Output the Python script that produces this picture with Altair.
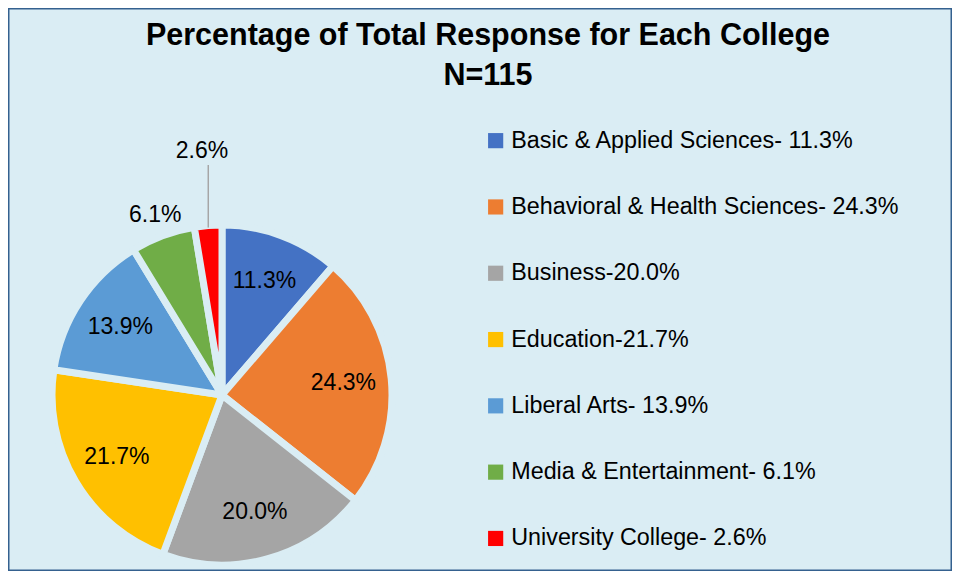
import altair as alt
import pandas as pd

colleges = ["Basic & Applied Sciences", "Behavioral & Health Sciences", "Business",
            "Education", "Liberal Arts", "Media & Entertainment", "University College"]
legend_labels = ["Basic & Applied Sciences- 11.3%", "Behavioral & Health Sciences- 24.3%",
                 "Business-20.0%", "Education-21.7%", "Liberal Arts- 13.9%",
                 "Media & Entertainment- 6.1%", "University College- 2.6%"]
percent = [11.3, 24.3, 20.0, 21.7, 13.9, 6.1, 2.6]
colors = ["#4472C4", "#ED7D31", "#A5A5A5", "#FFC000", "#5B9BD5", "#70AD47", "#FF0000"]
title_lines = ["Percentage of Total Response for Each College", "N=115"]

BG = "#DAEDF4"
FONT = "Liberation Sans"
CX, CY, R = 214, 387, 170

df = pd.DataFrame({
    "college": colleges,
    "legend": legend_labels,
    "pct": percent,
    "order": list(range(len(colleges))),
})

color = alt.Color(
    "legend:N",
    scale=alt.Scale(domain=legend_labels, range=colors),
    legend=alt.Legend(
        title=None, orient="none", legendX=476, legendY=121,
        symbolType="square", symbolSize=230, symbolStrokeWidth=0,
        labelFont=FONT, labelFontSize=23.3, labelColor="#000000",
        rowPadding=42.3, labelOffset=4, labelLimit=500,
    ),
)

arcs = alt.Chart(df).mark_arc(outerRadius=R, stroke=BG, strokeWidth=7).encode(
    theta=alt.Theta("pct:Q", stack=True),
    order=alt.Order("order:Q"),
    color=color, x=alt.value(CX), y=alt.value(CY),
)

polar = alt.Chart(df).transform_window(
    cum="sum(pct)", sort=[alt.SortField("order")], frame=[None, 0]
).transform_joinaggregate(total="sum(pct)").transform_calculate(
    ang="2*PI*(datum.cum - datum.pct/2)/datum.total",
    lr="datum.pct < 4 ? 245 : (datum.pct < 8 ? 192 : 122)",
    txt="format(datum.pct, '.1f') + '%'",
)

labels = polar.mark_text(font=FONT, fontSize=23, color="#000000").encode(
    text="txt:N",
    theta=alt.Theta("ang:Q", scale=None, stack=None),
    radius=alt.Radius("lr:Q", scale=None),
    x=alt.value(CX), y=alt.value(CY),
)

leader = polar.transform_calculate(
    px=f"{CX} + {R - 2}*sin(datum.ang)",
    py1=f"{CY} - {R - 2}*cos(datum.ang)",
    py2=f"{CY} - 230",
).transform_filter("datum.pct < 4").mark_rule(color="#A6A6A6", strokeWidth=1.5).encode(
    x=alt.X("px:Q", scale=None), x2="px:Q",
    y=alt.Y("py1:Q", scale=None), y2="py2:Q",
)

chart = alt.layer(arcs, labels, leader).properties(
    width=944, height=563,
    autosize=alt.AutoSizeParams(type="none"),
    padding=0,
    background=BG,
    title=alt.TitleParams(
        text=title_lines, font=FONT, fontSize=30.5, fontWeight="bold",
        color="#000000", anchor="middle", offset=-83, lineHeight=40, dx=8,
    ),
).configure_view(fill=BG, stroke="#35618F", strokeWidth=3)

chart.save("out.html", embed_options={"renderer": "svg", "actions": False})
